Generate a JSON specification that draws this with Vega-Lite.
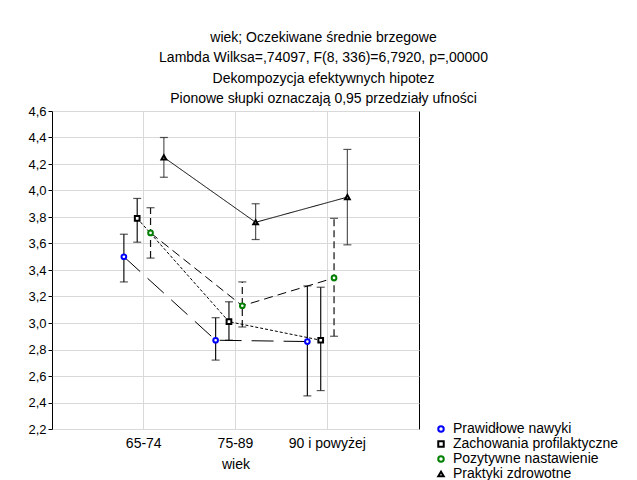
{
  "$schema": "https://vega.github.io/schema/vega-lite/v6.json",
  "autosize": {"type": "none"},
  "width": 367,
  "height": 318,
  "padding": {"left": 52, "top": 111, "right": 218, "bottom": 51},
  "background": "white",
  "config": {
    "font": "Liberation Sans",
    "view": {"stroke": "black", "strokeWidth": 1},
    "axis": {"labelFont": "Liberation Sans", "titleFont": "Liberation Sans", "labelColor": "black", "titleColor": "black", "domainColor": "black", "tickColor": "black", "gridColor": "#d9d9d9"},
    "axisY": {"values": [2.2, 2.4, 2.6, 2.8, 3.0, 3.2, 3.4, 3.6, 3.8, 4.0, 4.2, 4.4, 4.6], "labelExpr": "replace(format(datum.value, '.1f'), '.', ',')", "labelFontSize": 13, "tickSize": 4, "labelPadding": 2, "grid": true, "domain": false, "labelOverlap": false, "labelFlush": false, "title": null}
  },
  "title": {
    "text": ["wiek; Oczekiwane średnie brzegowe", "Lambda Wilksa=,74097, F(8, 336)=6,7920, p=,00000", "Dekompozycja efektywnych hipotez", "Pionowe słupki oznaczają 0,95 przedziały ufności"],
    "fontSize": 14,
    "font": "Liberation Sans",
    "fontWeight": "normal",
    "color": "black",
    "lineHeight": 20.5,
    "anchor": "middle",
    "dx": 88,
    "offset": -1
  },
  "resolve": {"legend": {"strokeDash": "independent"}, "scale": {"strokeDash": "independent"}},
  "data": {
    "values": [
      {"series": "Prawidłowe nawyki", "wiek": "65-74", "mean": 3.50, "lo": 3.31, "hi": 3.67},
      {"series": "Prawidłowe nawyki", "wiek": "75-89", "mean": 2.87, "lo": 2.72, "hi": 3.04},
      {"series": "Prawidłowe nawyki", "wiek": "90 i powyżej", "mean": 2.86, "lo": 2.45, "hi": 3.28},
      {"series": "Zachowania profilaktyczne", "wiek": "65-74", "mean": 3.79, "lo": 3.61, "hi": 3.94},
      {"series": "Zachowania profilaktyczne", "wiek": "75-89", "mean": 3.01, "lo": 2.87, "hi": 3.16},
      {"series": "Zachowania profilaktyczne", "wiek": "90 i powyżej", "mean": 2.87, "lo": 2.49, "hi": 3.27},
      {"series": "Pozytywne nastawienie", "wiek": "65-74", "mean": 3.68, "lo": 3.49, "hi": 3.87},
      {"series": "Pozytywne nastawienie", "wiek": "75-89", "mean": 3.13, "lo": 2.97, "hi": 3.31},
      {"series": "Pozytywne nastawienie", "wiek": "90 i powyżej", "mean": 3.34, "lo": 2.90, "hi": 3.79},
      {"series": "Praktyki zdrowotne", "wiek": "65-74", "mean": 4.25, "lo": 4.10, "hi": 4.40},
      {"series": "Praktyki zdrowotne", "wiek": "75-89", "mean": 3.76, "lo": 3.63, "hi": 3.90},
      {"series": "Praktyki zdrowotne", "wiek": "90 i powyżej", "mean": 3.95, "lo": 3.59, "hi": 4.31}
    ]
  },
  "encoding": {
    "x": {
      "field": "wiek", "type": "nominal", "sort": ["65-74", "75-89", "90 i powyżej"],
      "scale": {"type": "band", "paddingInner": 0, "paddingOuter": 0.5},
      "axis": {"title": "wiek", "labelAngle": 0, "labelFontSize": 14, "titleFontSize": 14, "titleFontWeight": "normal", "ticks": false, "labelPadding": 7, "titlePadding": 7, "grid": true, "bandPosition": 0.5, "domain": false}
    },
    "xOffset": {
      "field": "series", "type": "nominal",
      "scale": {"type": "point", "padding": 0, "range": [26, 66], "domain": ["Prawidłowe nawyki", "Zachowania profilaktyczne", "Pozytywne nastawienie", "Praktyki zdrowotne"]}
    }
  },
  "layer": [
    {
      "mark": {"type": "rule", "strokeWidth": 1.2},
      "encoding": {
        "y": {"field": "lo", "type": "quantitative", "scale": {"domain": [2.2, 4.6], "nice": false, "zero": false}},
        "y2": {"field": "hi"},
        "stroke": {"condition": {"test": "datum.series === 'Praktyki zdrowotne'", "value": "#555555"}, "value": "#111111"},
        "strokeDash": {"condition": {"test": "datum.series === 'Pozytywne nastawienie'", "value": [7, 4]}, "value": [1, 0]}
      }
    },
    {
      "mark": {"type": "tick", "size": 8, "thickness": 1.2, "orient": "horizontal", "color": "#111111"},
      "encoding": {
        "y": {"field": "lo", "type": "quantitative"}
      }
    },
    {
      "mark": {"type": "tick", "size": 8, "thickness": 1.2, "orient": "horizontal", "color": "#111111"},
      "encoding": {
        "y": {"field": "hi", "type": "quantitative"}
      }
    },
    {
      "mark": {"type": "line", "color": "black", "strokeWidth": 1},
      "encoding": {
        "y": {"field": "mean", "type": "quantitative"},
        "detail": {"field": "series"},
        "strokeDash": {"field": "series", "type": "nominal", "legend": null,
          "scale": {"domain": ["Prawidłowe nawyki", "Zachowania profilaktyczne", "Pozytywne nastawienie", "Praktyki zdrowotne"], "range": [[22, 10], [3, 2], [9, 5], [1, 0]]}}
      }
    },
    {
      "mark": {"type": "point", "filled": false, "fill": "white", "strokeWidth": 2, "size": 22, "opacity": 1},
      "encoding": {
        "y": {"field": "mean", "type": "quantitative"},
        "color": {"field": "series", "type": "nominal",
          "scale": {"domain": ["Prawidłowe nawyki", "Zachowania profilaktyczne", "Pozytywne nastawienie", "Praktyki zdrowotne"], "range": ["#0000ff", "#000000", "#008000", "#000000"]},
          "legend": {"title": null, "orient": "none", "legendX": 382, "legendY": 311, "labelFontSize": 14, "labelFont": "Liberation Sans", "labelColor": "black", "labelLimit": 300, "rowPadding": 1, "symbolSize": 30, "labelOffset": 5, "symbolStrokeWidth": 2}},
        "shape": {"field": "series", "type": "nominal",
          "scale": {"domain": ["Prawidłowe nawyki", "Zachowania profilaktyczne", "Pozytywne nastawienie", "Praktyki zdrowotne"], "range": ["circle", "square", "circle", "triangle-up"]},
          "legend": {"title": null, "orient": "none", "legendX": 382, "legendY": 311, "labelFontSize": 14, "labelFont": "Liberation Sans", "labelColor": "black", "labelLimit": 300, "rowPadding": 1, "symbolSize": 30, "labelOffset": 5, "symbolStrokeWidth": 2}}
      }
    }
  ]
}
